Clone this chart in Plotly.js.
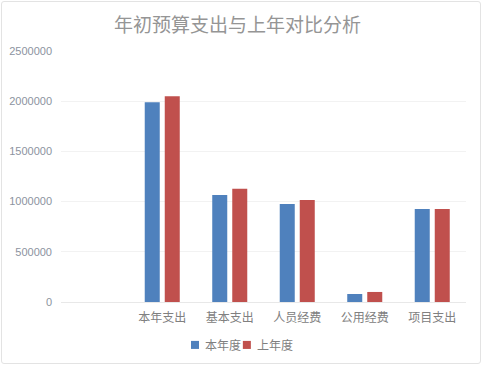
<!DOCTYPE html>
<html>
<head>
<meta charset="utf-8">
<script src="https://cdn.plot.ly/plotly-3.0.1.min.js"></script>
<style>
html,body{margin:0;padding:0;background:#fff;}
#wrap{position:relative;width:482px;height:366px;}
#chart{position:absolute;left:0;top:0;width:482px;height:366px;}
#frame{position:absolute;left:1px;top:1px;width:478px;height:361px;border:1px solid #e3e3e3;border-radius:3px;pointer-events:none;}
</style>
</head>
<body>
<div id="wrap"><div id="chart"></div><div id="frame"></div></div>
<script>
const categories = ["本年支出", "基本支出", "人员经费", "公用经费", "项目支出"];
const seriesNames = ["本年度", "上年度"];
const seriesColors = ["#4F81BD", "#C0504D"];
const thisYear = [1990000, 1066000, 976000, 80000, 926000];
const lastYear = [2050000, 1128000, 1016000, 100000, 926000];
const yTicks = [0, 500000, 1000000, 1500000, 2000000, 2500000];
const yTickLabels = ["0", "500000", "1000000", "1500000", "2000000", "2500000"];

const font = "'Noto Sans CJK SC', 'Liberation Sans', sans-serif";
const traces = [
  {type: "bar", name: seriesNames[0], x: categories, y: thisYear, marker: {color: seriesColors[0]}, hoverinfo: "none", showlegend: false},
  {type: "bar", name: seriesNames[1], x: categories, y: lastYear, marker: {color: seriesColors[1]}, hoverinfo: "none", showlegend: false}
];

// compact legend: small squares + labels (Excel style)
const legendX = [0.321, 0.449];
const shapes = seriesNames.map((n, i) => ({
  type: "rect", xref: "paper", yref: "paper",
  x0: legendX[i], x1: legendX[i] + 0.0198, y0: -0.187, y1: -0.155,
  fillcolor: seriesColors[i], line: {width: 0}
}));
const annotations = seriesNames.map((n, i) => ({
  text: n, xref: "paper", yref: "paper", x: legendX[i] + 0.03, y: -0.171,
  xanchor: "left", yanchor: "middle", showarrow: false,
  font: {family: font, size: 12, color: "#808080"}
}));

const layout = {
  width: 482, height: 366,
  margin: {l: 61, r: 16, t: 51, b: 64},
  paper_bgcolor: "rgba(0,0,0,0)", plot_bgcolor: "#fff",
  title: {text: "年初预算支出与上年对比分析", font: {family: font, size: 19, color: "#959595"}, x: 0.493, xref: "container", xanchor: "center", y: 0.932, yref: "container", yanchor: "middle"},
  barmode: "group", bargap: 0.407, bargroupgap: 0.25,
  xaxis: {type: "category", range: [-1.5, 4.5], showgrid: false, zeroline: false, showline: true, linecolor: "#e8e8e8", ticks: "",
          ticklabelstandoff: 5, automargin: false,
          tickfont: {family: font, size: 12, color: "#808080"}, fixedrange: true},
  yaxis: {range: [0, 2500000], tickvals: yTicks, ticktext: yTickLabels, showgrid: true, gridcolor: "#f2f2f2", zeroline: false,
          showline: false, ticks: "", ticklabelstandoff: 8, automargin: false,
          tickfont: {family: "'Liberation Sans', sans-serif", size: 11, color: "#8c93a0"}, fixedrange: true},
  showlegend: false,
  shapes: shapes,
  annotations: annotations
};
Plotly.newPlot("chart", traces, layout, {displayModeBar: false, staticPlot: true});
</script>
</body>
</html>
